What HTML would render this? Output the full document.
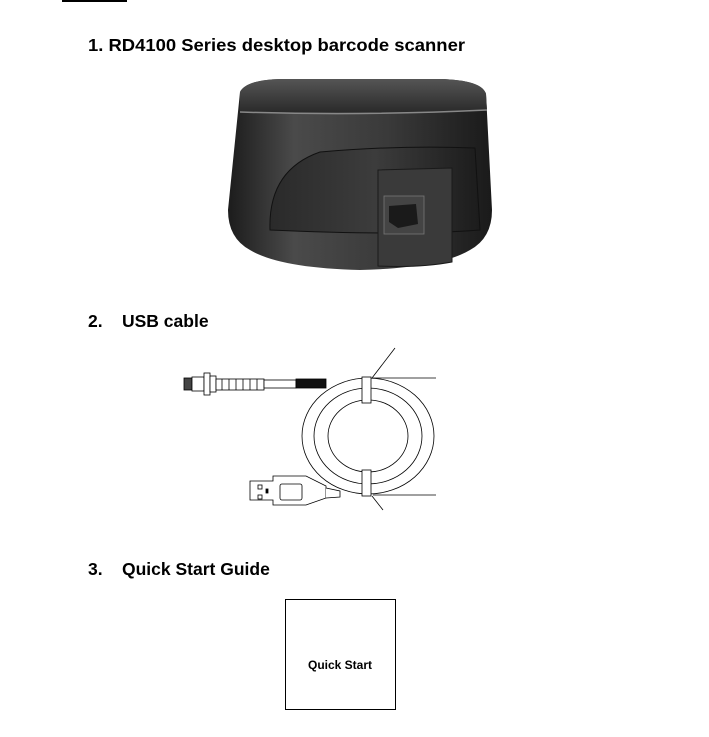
<!DOCTYPE html>
<html><head><meta charset="utf-8"><style>
html,body{margin:0;padding:0;background:#fff;}
svg{display:block;}
text{font-family:"Liberation Sans",Arial,sans-serif;font-weight:bold;fill:#000;}
</style></head><body>
<svg width="709" height="737" viewBox="0 0 709 737" xmlns="http://www.w3.org/2000/svg">
<defs>
<linearGradient id="body" x1="0" x2="1" y1="0" y2="0">
<stop offset="0" stop-color="#1c1c1c"/><stop offset="0.25" stop-color="#4a4a4a"/><stop offset="0.6" stop-color="#3a3a3a"/><stop offset="1" stop-color="#1a1a1a"/>
</linearGradient>
<linearGradient id="top" x1="0" x2="0" y1="0" y2="1">
<stop offset="0" stop-color="#555"/><stop offset="1" stop-color="#2a2a2a"/>
</linearGradient>
<linearGradient id="panel" x1="0" x2="1" y1="0" y2="0">
<stop offset="0" stop-color="#2a2a2a"/><stop offset="0.5" stop-color="#3c3c3c"/><stop offset="1" stop-color="#1c1c1c"/>
</linearGradient>
</defs>
<rect x="62" y="0" width="65" height="2" fill="#000"/>
<text x="88" y="51" font-size="17.5" textLength="377" lengthAdjust="spacingAndGlyphs">1. RD4100 Series desktop barcode scanner</text>

<!-- scanner -->
<path d="M240 92 Q246 80 280 79 L440 79 Q482 80 486 94 L492 210 Q492 238 470 250 Q440 268 360 270 Q280 268 250 250 Q228 238 228 210 Z" fill="url(#body)"/>
<path d="M240 92 Q246 80 280 79 L440 79 Q482 80 486 94 L487 110 Q400 114 240 112 Z" fill="url(#top)"/>
<path d="M240 112 Q360 116 487 110" stroke="#888" stroke-width="1.5" fill="none"/>
<path d="M270 230 Q268 170 320 152 Q400 145 475 148 L480 230 Q400 236 270 230 Z" fill="url(#panel)" stroke="#111" stroke-width="1"/>
<path d="M378 170 L452 168 L452 262 Q420 268 378 266 Z" fill="#3a3a3a" stroke="#1a1a1a"/>
<rect x="384" y="196" width="40" height="38" fill="#444" stroke="#777" stroke-width="0.8"/>
<path d="M389 206 L416 204 L418 224 L398 228 L389 222 Z" fill="#1a1a1a"/>

<text x="88" y="327" font-size="17.5">2.</text>
<text x="122" y="327" font-size="17.5">USB cable</text>

<!-- cable -->
<g stroke="#000" stroke-width="0.8" fill="#fff">
<ellipse cx="368" cy="436" rx="66" ry="58"/>
<ellipse cx="368" cy="436" rx="54" ry="48"/>
<ellipse cx="368" cy="436" rx="40" ry="36"/>
<line x1="373" y1="378" x2="436" y2="378"/>
<line x1="373" y1="495" x2="436" y2="495"/>
<rect x="184" y="378" width="8" height="12" fill="#444"/>
<rect x="192" y="377" width="12" height="14"/>
<rect x="204" y="373" width="6" height="22"/>
<rect x="210" y="376" width="6" height="16"/>
<rect x="216" y="379" width="48" height="11"/>
<line x1="222" y1="379" x2="222" y2="390"/><line x1="229" y1="379" x2="229" y2="390"/><line x1="236" y1="379" x2="236" y2="390"/><line x1="243" y1="379" x2="243" y2="390"/><line x1="250" y1="379" x2="250" y2="390"/><line x1="257" y1="379" x2="257" y2="390"/>
<rect x="264" y="380" width="32" height="8"/>
<rect x="296" y="379" width="30" height="9" fill="#111"/>
<rect x="362" y="377" width="9" height="26"/>
<rect x="362" y="470" width="9" height="26"/>
<path d="M250 481 L273 481 L273 476 L306 476 L326 486 L326 498 L306 505 L273 505 L273 500 L250 500 Z"/>
<rect x="280" y="484" width="22" height="16" rx="2"/>
<rect x="258" y="485" width="4" height="4"/><rect x="258" y="495" width="4" height="4"/>
<rect x="266" y="489" width="2" height="4" fill="#000"/>
<path d="M326 488 L340 491 L340 497 L326 498" />
<line x1="372" y1="378" x2="395" y2="348"/>
<line x1="372" y1="496" x2="383" y2="510"/>
</g>

<text x="88" y="575" font-size="17.5">3.</text>
<text x="122" y="575" font-size="17.5">Quick Start Guide</text>

<rect x="285.5" y="599.5" width="110" height="110" fill="none" stroke="#000" stroke-width="1"/>
<text x="340" y="669" font-size="12" text-anchor="middle">Quick Start</text>
</svg>
</body></html>
